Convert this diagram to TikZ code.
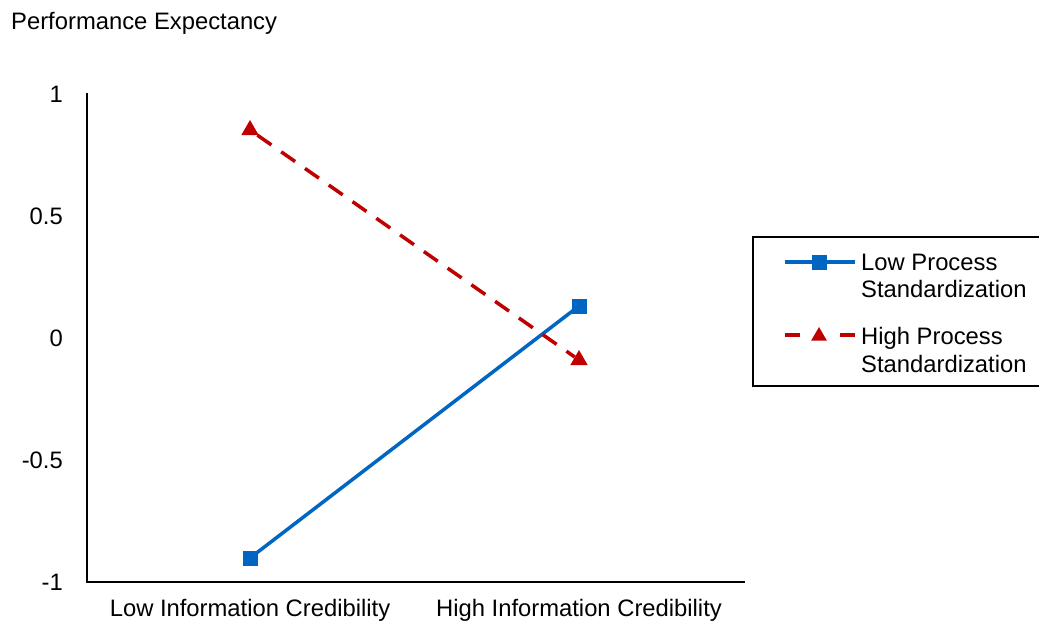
\documentclass[tikz,border=0pt]{standalone}
\usepackage{fontspec}
\setmainfont{Liberation Sans}
\usetikzlibrary{shapes.geometric}
\begin{document}
\begin{tikzpicture}[x=1pt,y=-1pt,
  lbl/.style={font=\fontsize{23.8}{27.5}\selectfont, inner sep=0pt},
  axisline/.style={line width=1.8pt, black},
  blueline/.style={line width=3.5pt, draw={rgb,255:red,0;green,102;blue,194}},
  redline/.style={line width=3.5pt, draw={rgb,255:red,192;green,0;blue,0}, dash pattern=on 17pt off 12pt},
  sqmark/.style={rectangle, fill={rgb,255:red,0;green,102;blue,194}, minimum size=15pt, inner sep=0pt},
  trimark/.style={regular polygon, regular polygon sides=3, fill={rgb,255:red,192;green,0;blue,0}, minimum size=20pt, inner sep=0pt}
]
\clip (0,0) rectangle (1039,626);
\fill[white] (0,0) rectangle (1039,626);
% title
\node[lbl, anchor=west] (title) at (11,23) {Performance Expectancy};
% axes
\coordinate (o) at (87,582);
\coordinate (ytop) at (87,93);
\coordinate (xend) at (745,582);
\draw[axisline] (ytop) -- (o) -- (xend);
% y tick labels
\node[lbl, anchor=east] (t1) at (63,94) {1};
\node[lbl, anchor=east] (t05) at (63,216) {0.5};
\node[lbl, anchor=east] (t0) at (63,338) {0};
\node[lbl, anchor=east] (tm05) at (63,460) {-0.5};
\node[lbl, anchor=east] (tm1) at (63,582) {-1};
% x category labels
\node[lbl] (c1) at (250,610) {Low Information Credibility};
\node[lbl] (c2) at (579,610) {High Information Credibility};
% data
\node[sqmark] (b1) at (250,558) {};
\node[sqmark] (b2) at (579,306) {};
\node[trimark] (r1) at (250,130) {};
\node[trimark] (r2) at (579,360) {};
\draw[blueline] (b1.center) -- (b2.center);
\node[sqmark] at (b1) {};
\node[sqmark] at (b2) {};
\draw[redline] (r1) -- (r2);
% legend
\node[draw=black, line width=1.5pt, minimum width=300pt, minimum height=149pt, anchor=north west, inner sep=0pt] (leg) at (752,236) {};
\coordinate (lb1) at (785,262);
\coordinate (lb2) at (855,262);
\draw[blueline] (lb1) -- (lb2);
\node[sqmark] (lbm) at (819,262) {};
\coordinate (lr1) at (785,335);
\coordinate (lr2) at (855,335);
\draw[redline, dash pattern=on 15pt off 40pt on 15pt off 10pt] (lr1) -- (lr2);
\node[trimark, minimum size=18pt] (lrm) at (819,336) {};
\node[lbl, anchor=west, align=left] (lt1) at (861,276) {Low Process\\Standardization};
\node[lbl, anchor=west, align=left] (lt2) at (861,350) {High Process\\Standardization};
\end{tikzpicture}
\end{document}
